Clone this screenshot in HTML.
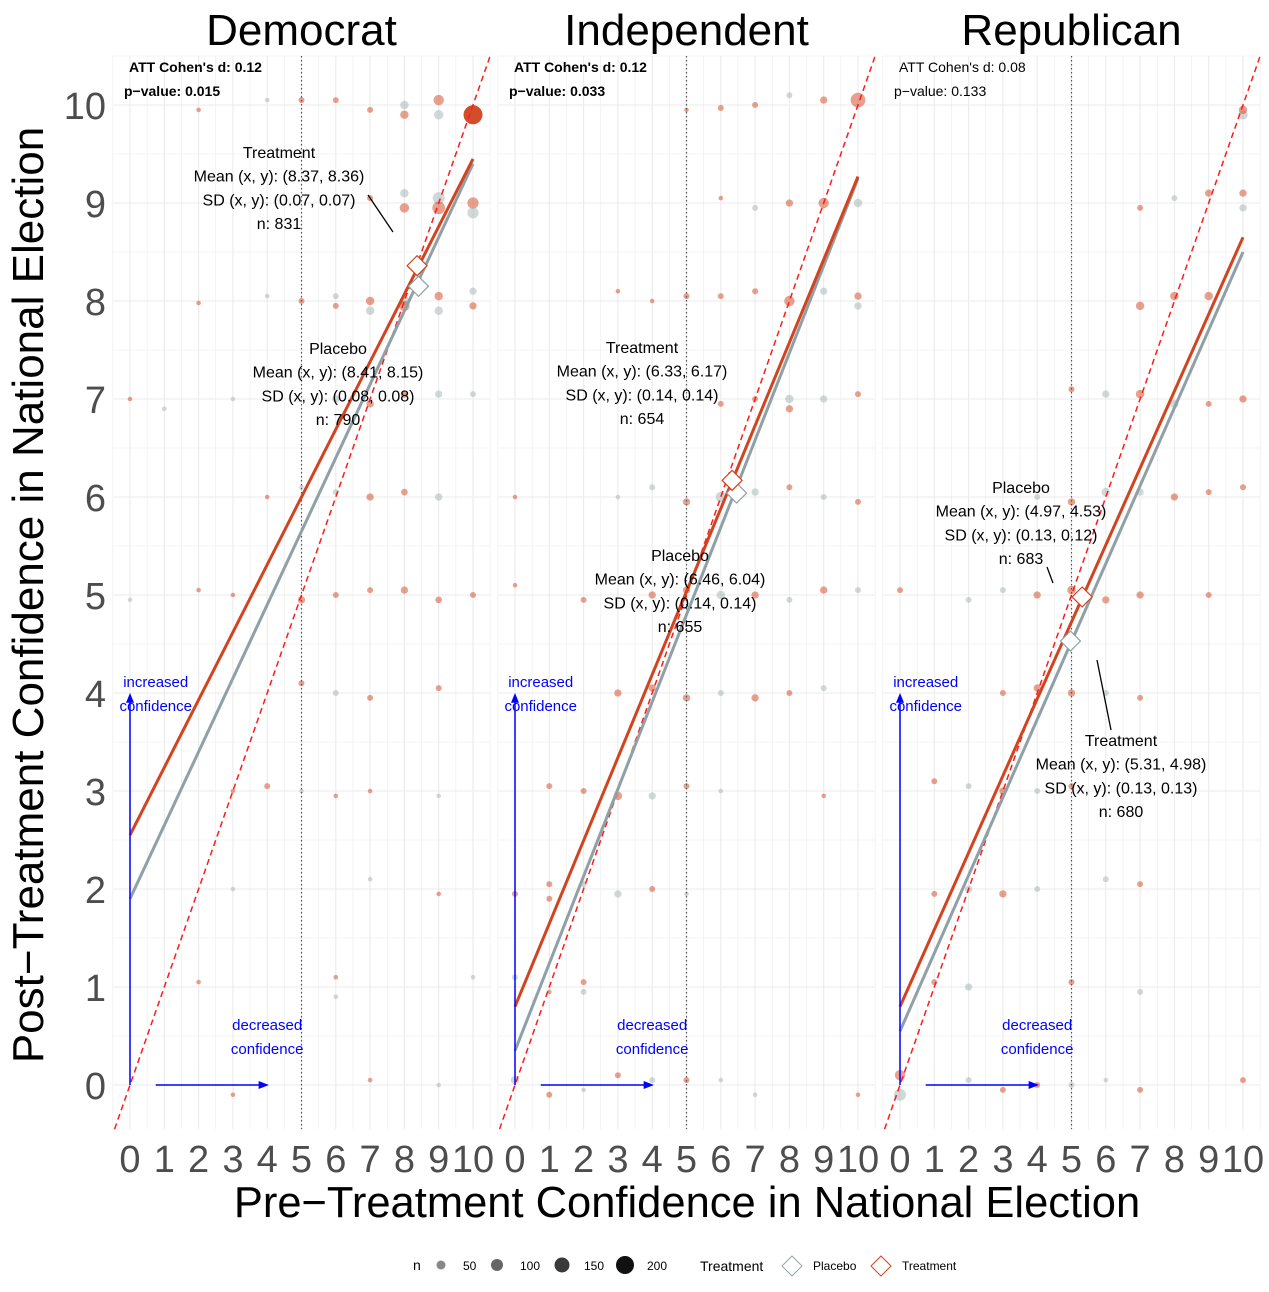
<!DOCTYPE html>
<html><head><meta charset="utf-8"><style>
body{margin:0;background:#fff;}
svg text{font-family:"Liberation Sans",sans-serif;}
</style></head><body>
<svg id="chart" width="1269" height="1287" viewBox="0 0 1269 1287" xmlns="http://www.w3.org/2000/svg">
<g id="panels"></g>
<text x="43" y="595" font-size="44" text-anchor="middle" transform="rotate(-90 43 595)" fill="#000">Post−Treatment Confidence in National Election</text>
<text x="687" y="1217" font-size="43.5" text-anchor="middle" fill="#000">Pre−Treatment Confidence in National Election</text>
<g font-size="12">
<text x="413" y="1270" font-size="14">n</text>
<circle cx="441" cy="1265" r="4.5" fill="#888"/><text x="463" y="1270">50</text>
<circle cx="497" cy="1265" r="6" fill="#666"/><text x="520" y="1270">100</text>
<circle cx="562" cy="1265" r="7.5" fill="#3a3a3a"/><text x="584" y="1270">150</text>
<circle cx="625" cy="1265" r="9" fill="#111"/><text x="647" y="1270">200</text>
<text x="700" y="1271" font-size="14">Treatment</text>
<path d="M792 1256 L802 1266 L792 1276 L782 1266 Z" fill="#fff" stroke="#95a5a6"/><text x="813" y="1270">Placebo</text>
<path d="M881 1256 L891 1266 L881 1276 L871 1266 Z" fill="#fff" stroke="#d2431f"/><text x="902" y="1270">Treatment</text>
</g>
</svg>
<script>
const panelNames=["Democrat","Independent","Republican"];
const attD=["0.12","0.12","0.08"];
const pVals=["0.015","0.033","0.133"];
const attBold=[true,true,false];
const xTicks=[0,1,2,3,4,5,6,7,8,9,10];
const yTicks=[0,1,2,3,4,5,6,7,8,9,10];
// fitted lines: [value at x=0, value at x=10]
const treatLine=[[2.55,9.45],[0.8,9.27],[0.8,8.65]];
const placeboLine=[[1.9,9.4],[0.35,9.25],[0.55,8.5]];
const treatMean=[[8.37,8.36],[6.33,6.17],[5.31,4.98]];
const placeboMean=[[8.41,8.15],[6.46,6.04],[4.97,4.53]];
const treatSD=[["0.07","0.07"],["0.14","0.14"],["0.13","0.13"]];
const placeboSD=[["0.08","0.08"],["0.14","0.14"],["0.13","0.12"]];
const treatN=[831,654,680];
const placeboN=[790,655,683];
// points [x, y, n, group(0 placebo,1 treatment)]
const pointsDem=[[10,9.9,200,1],[9,10.05,60,1],[9,9.9,50,0],[8,10.0,40,0],[8,9.9,40,1],[7,9.95,20,1],[6,10.05,20,1],[5,10.05,20,1],[4,10.05,10,0],[2,9.95,10,1],[10,9.0,70,1],[10,8.9,70,0],[9,9.05,80,0],[9,8.95,90,1],[8,8.95,50,1],[8,9.1,40,0],[7,9.05,20,1],[8,8.0,50,0],[8,7.95,60,1],[7,8.0,40,1],[7,7.9,40,0],[9,8.05,40,1],[9,7.9,40,0],[10,8.1,30,0],[10,7.95,30,1],[6,8.05,20,0],[6,7.95,20,1],[5,8.0,20,1],[4,8.05,10,0],[2,7.98,10,1],[0,7.0,10,1],[1,6.9,10,0],[3,7.0,10,0],[6,7.0,30,0],[7,6.95,30,1],[8,7.05,30,1],[9,7.05,30,0],[10,7.05,20,0],[9,6.0,30,0],[8,6.05,25,1],[7,6.0,30,1],[6,6.05,20,0],[5,6.1,10,0],[4,6.0,10,1],[0,4.95,10,0],[2,5.05,10,1],[3,5.0,10,1],[5,4.95,30,1],[6,5.0,20,1],[7,5.05,20,1],[8,5.05,30,1],[9,4.95,25,1],[10,5.0,20,1],[5,4.1,20,1],[6,4.0,20,0],[7,3.95,20,1],[9,4.05,20,1],[3,3.0,10,1],[4,3.05,20,1],[5,3.0,10,0],[6,2.95,10,1],[7,3.0,10,1],[9,2.95,10,0],[3,2.0,10,0],[7,2.1,10,0],[9,1.95,10,1],[2,1.05,10,1],[6,1.1,10,1],[10,1.1,10,0],[6,0.9,10,0],[7,0.05,10,1],[3,-0.1,10,1],[9,0.0,10,0]];
const pointsInd=[[10,10.05,120,1],[9,10.05,30,1],[8,10.1,20,0],[7,10.0,20,1],[6,9.97,20,1],[5,9.95,10,1],[10,9.0,40,0],[9,9.0,60,1],[8,9.0,30,1],[7,8.95,20,0],[6,9.05,10,1],[8,8.0,60,1],[9,8.1,30,0],[10,8.05,30,1],[10,7.95,30,0],[7,8.1,20,1],[6,8.05,20,1],[5,8.05,20,1],[4,8.0,10,1],[3,8.1,10,1],[8,7.0,40,0],[8,6.9,30,1],[9,7.0,30,0],[7,7.0,20,1],[10,7.05,20,1],[6,6.95,20,1],[6,6.0,60,0],[7,6.05,30,0],[8,6.1,20,1],[9,6.0,20,0],[10,5.95,20,1],[5,5.95,30,1],[4,6.1,20,0],[0,6.0,10,1],[3,6.0,10,0],[0,5.1,10,1],[2,4.95,20,1],[4,5.0,30,1],[5,5.05,30,1],[6,5.0,40,0],[7,5.0,30,1],[8,4.95,20,0],[9,5.05,30,1],[10,5.05,20,0],[3,4.0,30,1],[4,4.05,30,1],[5,3.95,30,1],[6,4.0,20,0],[7,3.95,30,1],[8,4.0,20,1],[9,4.05,20,0],[3,2.95,40,1],[4,2.95,30,0],[2,3.0,20,1],[1,3.05,20,1],[5,3.05,20,1],[6,3.0,10,0],[9,2.95,10,1],[1,2.05,20,1],[2,2.05,20,0],[3,1.95,30,0],[4,2.0,20,1],[5,1.95,10,0],[1,1.9,20,1],[0,1.95,20,1],[0,1.1,20,0],[2,1.05,20,1],[1,0.95,10,1],[2,0.95,20,0],[0,0.05,40,0],[1,-0.1,20,1],[2,-0.05,10,0],[3,0.1,20,1],[4,0.05,20,0],[5,0.05,20,1],[6,0.05,10,0],[7,-0.1,10,0],[10,-0.1,10,1]];
const pointsRep=[[10,9.9,50,0],[10,9.95,40,1],[9,9.1,30,1],[10,9.1,30,1],[10,8.95,30,0],[8,9.05,20,0],[7,8.95,20,1],[8,8.05,40,1],[9,8.05,40,1],[7,7.95,40,1],[6,7.05,30,0],[7,7.05,40,1],[8,6.95,40,0],[9,6.95,20,1],[10,7.0,30,1],[5,7.1,20,1],[6,6.05,40,0],[7,6.05,30,0],[8,6.0,30,1],[9,6.05,20,1],[10,6.1,20,1],[5,5.95,30,1],[4,6.0,20,0],[5,5.05,40,1],[6,4.95,30,1],[7,5.0,30,1],[4,5.0,30,1],[3,5.05,20,0],[2,4.95,20,0],[0,5.05,20,1],[9,5.0,20,1],[3,4.0,20,1],[4,4.05,30,1],[5,4.0,30,1],[6,4.0,20,0],[7,3.95,20,1],[3,3.0,30,1],[2,3.05,20,0],[1,3.1,20,1],[4,3.0,20,0],[5,3.05,20,1],[2,2.0,30,0],[3,1.95,30,1],[1,1.95,20,1],[4,2.0,20,0],[7,2.05,20,1],[6,2.1,20,0],[2,1.0,30,0],[1,1.05,20,1],[5,1.05,20,1],[7,0.95,20,0],[0,-0.1,80,0],[0,0.1,60,1],[2,0.05,20,0],[3,-0.05,20,1],[4,0.0,20,1],[5,0.0,20,0],[6,0.05,10,0],[7,-0.05,20,1],[10,0.05,20,1]];
const allPoints=[pointsDem,pointsInd,pointsRep];

const annoLayout=[
 {t:[279,153],p:[338,349],tl:[368,195,393,232],pl:null},
 {t:[642,348],p:[680,556],tl:null,pl:null},
 {t:[1121,741],p:[1021,488],tl:[1097,660,1111,730],pl:[1047,567,1053,583]}
];

const NS="http://www.w3.org/2000/svg";
const root=document.getElementById('panels');
function mk(tag,attrs,parent){const e=document.createElementNS(NS,tag);for(const k in attrs)e.setAttribute(k,attrs[k]);(parent||root).appendChild(e);return e;}
const X0=130,XS=34.3,Y0=1085,YS=98,PW=385;
const xMin=-0.5,xMax=10.5,yMin=-0.45,yMax=10.5;

panelNames.forEach((name,i)=>{
  const ox=i*PW;
  const sx=v=>ox+X0+v*XS;
  const sy=v=>Y0-v*YS;
  const g=mk('g',{});
  
  
  const clipId='clip'+i;
  const cp=mk('clipPath',{id:clipId},g);
  mk('rect',{x:sx(xMin),y:sy(yMax),width:sx(xMax)-sx(xMin),height:sy(yMin)-sy(yMax)},cp);
  for(let v=-0.5;v<=10.5;v+=0.5){
    const major=Number.isInteger(v);
    const l=mk('line',{x1:sx(v),x2:sx(v),y1:sy(yMax),y2:sy(yMin),stroke:'#ebebeb','stroke-width':major?1.1:0.6},g);
    
  }
  for(let v=-0.5;v<=10.5;v+=0.5){
    if(v<yMin||v>yMax)continue;
    const major=Number.isInteger(v);
    const l=mk('line',{x1:sx(xMin),x2:sx(xMax),y1:sy(v),y2:sy(v),stroke:'#ebebeb','stroke-width':major?1.1:0.6},g);
    
  }
  const t=mk('text',{x:sx(5),y:45,'font-size':44,'text-anchor':'middle',fill:'#000'},g);
  t.textContent=name;
  
  xTicks.forEach(v=>{const e=mk('text',{x:sx(v),y:1172,'font-size':38,'text-anchor':'middle',fill:'#4d4d4d'},g);e.textContent=v;
    });
  if(i===0){yTicks.forEach(v=>{const e=mk('text',{x:106,y:sy(v)+14,'font-size':38,'text-anchor':'end',fill:'#4d4d4d'},g);e.textContent=v;
    });}
  const pg=mk('g',{'clip-path':'url(#'+clipId+')'},g);
  allPoints[i].forEach(p=>{
    const r=Math.max(2.3,Math.sqrt(p[2]/200)*9.5);
    const big=p[2]>=150;
    const c=mk('circle',{cx:sx(p[0]),cy:sy(p[1]),r:r,fill:p[3]?'#d2431f':'#a3b1b5','fill-opacity':big?0.95:0.5},pg);
    
    
  });
  const vd=mk('line',{x1:sx(5),x2:sx(5),y1:sy(yMax),y2:sy(yMin),stroke:'#555','stroke-width':1.2,'stroke-dasharray':'1.5 2.5'},g);
  
  const dl=mk('line',{x1:sx(yMin),y1:sy(yMin),x2:sx(yMax),y2:sy(yMax),stroke:'#ff1a1a','stroke-width':1.5,'stroke-dasharray':'6 4','clip-path':'url(#'+clipId+')'},g);
  
  const pl=mk('line',{x1:sx(0),y1:sy(placeboLine[i][0]),x2:sx(10),y2:sy(placeboLine[i][1]),stroke:'#8fa0a6','stroke-width':3},g);
  
  const tl=mk('line',{x1:sx(0),y1:sy(treatLine[i][0]),x2:sx(10),y2:sy(treatLine[i][1]),stroke:'#d2431f','stroke-width':3},g);
  
  const dia=(m,col,nm)=>{const cx=sx(m[0]),cy=sy(m[1]),h=10;
    const d=mk('path',{d:`M${cx} ${cy-h} L${cx+h} ${cy} L${cx} ${cy+h} L${cx-h} ${cy} Z`,fill:'#fff',stroke:col,'stroke-width':1.2},g);
    };
  dia(placeboMean[i],'#8fa0a6','placebo-mean-marker');
  dia(treatMean[i],'#d2431f','treatment-mean-marker');
  const A=annoLayout[i];
  const block=(pos,title,m,sd,n,nm)=>{
    const lines=[title,`Mean (x, y): (${m[0].toFixed(2)}, ${m[1].toFixed(2)})`,`SD (x, y): (${sd[0]}, ${sd[1]})`,`n: ${n}`];
    const bg=mk('g',{},g);
    lines.forEach((s,k)=>{const e=mk('text',{x:pos[0],y:pos[1]+5+k*23.7,'font-size':16,'text-anchor':'middle',fill:'#000'},bg);e.textContent=s;});
  };
  block(A.t,'Treatment',treatMean[i],treatSD[i],treatN[i],'treatment-annotation');
  block(A.p,'Placebo',placeboMean[i],placeboSD[i],placeboN[i],'placebo-annotation');
  [A.tl,A.pl].forEach(L=>{if(L){const e=mk('line',{x1:L[0],y1:L[1],x2:L[2],y2:L[3],stroke:'#000','stroke-width':1.3},g);
    }});
  const a1=mk('text',{x:sx(0)-1,y:72,'font-size':14,'font-weight':attBold[i]?'bold':'normal',fill:'#000'},g);
  a1.textContent="ATT Cohen's d: "+attD[i];
  const a2=mk('text',{x:sx(0)-6,y:96,'font-size':14,'font-weight':attBold[i]?'bold':'normal',fill:'#000'},g);
  a2.textContent="p−value: "+pVals[i];
  const ag=mk('g',{},g);
  mk('line',{x1:sx(0),y1:sy(0),x2:sx(0),y2:sy(3.95),stroke:'#0000ff','stroke-width':1.5},ag);
  mk('path',{d:`M${sx(0)-4} ${sy(3.9)} L${sx(0)} ${sy(4)} L${sx(0)+4} ${sy(3.9)} Z`,fill:'#0000ff'},ag);
  mk('line',{x1:sx(0.75),y1:sy(0),x2:sx(4),y2:sy(0),stroke:'#0000ff','stroke-width':1.5},ag);
  mk('path',{d:`M${sx(3.75)} ${sy(0)-4} L${sx(4.05)} ${sy(0)} L${sx(3.75)} ${sy(0)+4} Z`,fill:'#0000ff'},ag);
  [['increased',sx(0.75),687],['confidence',sx(0.75),711],['decreased',sx(4),1030],['confidence',sx(4),1054]].forEach(q=>{
    const e=mk('text',{x:q[1],y:q[2],'font-size':15,'text-anchor':'middle',fill:'#0000ff'},ag);e.textContent=q[0];});
});
</script>
</body></html>
